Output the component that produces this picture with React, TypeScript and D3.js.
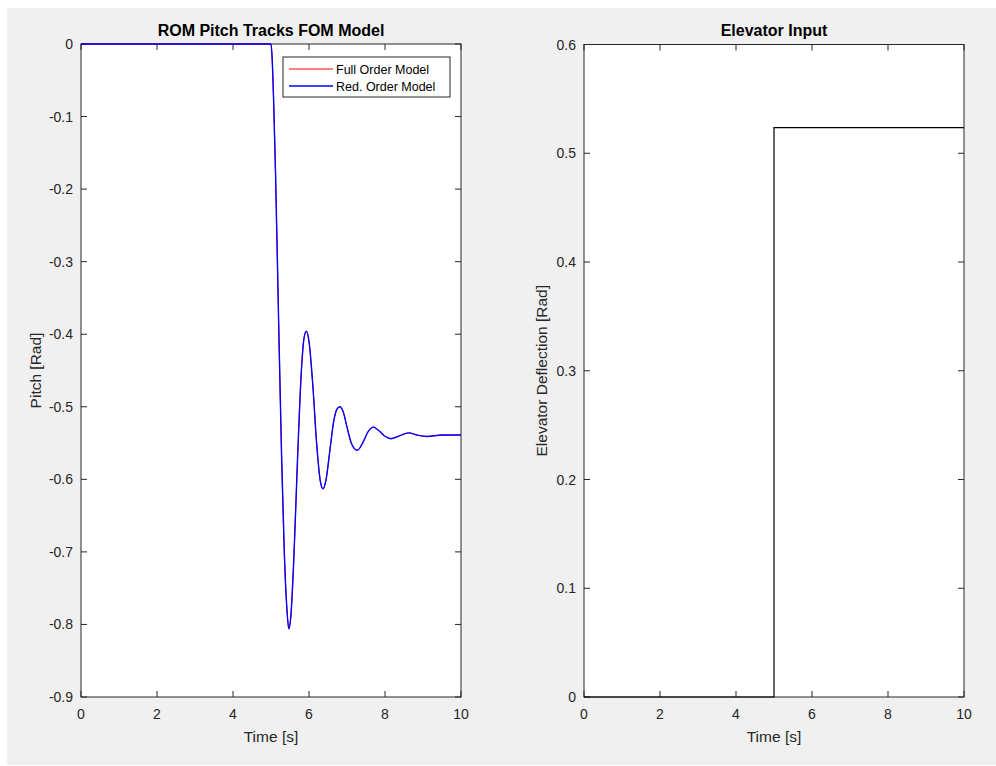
import React, { useEffect, useRef } from 'react';
import * as d3 from 'd3';

// values (time in s, pitch in rad)
const pitchTime = [0, 4.98, 5.0, 5.03, 5.07, 5.12, 5.2, 5.28, 5.35, 5.42, 5.47, 5.52, 5.6, 5.7, 5.8, 5.87, 5.93, 6.0, 6.1, 6.2, 6.3, 6.37, 6.45, 6.55, 6.65, 6.74, 6.81, 6.9, 7.0, 7.12, 7.27, 7.42, 7.56, 7.69, 7.82, 7.98, 8.15, 8.38, 8.62, 8.85, 9.1, 9.5, 10];
const romPitch = [0, 0, 0, -0.02, -0.08, -0.18, -0.38, -0.57, -0.7, -0.78, -0.806, -0.79, -0.71, -0.57, -0.45, -0.405, -0.396, -0.41, -0.47, -0.55, -0.603, -0.613, -0.6, -0.56, -0.52, -0.503, -0.5, -0.507, -0.528, -0.551, -0.56, -0.549, -0.534, -0.528, -0.532, -0.54, -0.544, -0.54, -0.536, -0.539, -0.541, -0.539, -0.539];
// the full order model lies under the reduced one
const fomPitch = romPitch;

const elevTime = [0, 5, 10];
const elevDeflection = [0, 0.5236, 0.5236];

const xTicks = [0, 2, 4, 6, 8, 10];
const pitchTicks = [0, -0.1, -0.2, -0.3, -0.4, -0.5, -0.6, -0.7, -0.8, -0.9];
const elevTicks = [0, 0.1, 0.2, 0.3, 0.4, 0.5, 0.6];

const legendNames = ['Full Order Model', 'Red. Order Model'];
const legendColors = ['#ff0000', '#0000ff'];

const W = 996;
const H = 766;
const FONT = '"Liberation Sans", Arial, Helvetica, sans-serif';
const AXIS = '#262626';

// matlab style labels: plain hyphen, no trailing zeros
const fmt = (v) => (v === 0 ? '0' : v.toFixed(1));

const App = () => {
    const ref = useRef(null);

    useEffect(() => {
        d3.select(ref.current).selectAll('*').remove();

        const svg = d3.select(ref.current)
            .append('svg')
            .attr('width', W)
            .attr('height', H)
            .style('display', 'block')
            .style('font-family', FONT);

        svg.append('rect').attr('width', W).attr('height', H).attr('fill', '#ffffff');
        svg.append('rect').attr('x', 7).attr('y', 8).attr('width', W - 7).attr('height', H - 9).attr('fill', '#f0f0f0');

        const drawPanel = (box, domainY, yTicks, title, yLabel, yLabelX) => {
            const x = d3.scaleLinear().domain([0, 10]).range([box.left, box.right]);
            const y = d3.scaleLinear().domain(domainY).range([box.bottom, box.top]);
            const g = svg.append('g');

            g.append('rect')
                .attr('x', box.left).attr('y', box.top)
                .attr('width', box.right - box.left).attr('height', box.bottom - box.top)
                .attr('fill', '#ffffff');

            const tl = 6;
            // ticks on all four sides, pointing in
            xTicks.forEach((t) => {
                g.append('line').attr('x1', x(t)).attr('x2', x(t)).attr('y1', box.bottom).attr('y2', box.bottom - tl).attr('stroke', AXIS);
                g.append('line').attr('x1', x(t)).attr('x2', x(t)).attr('y1', box.top).attr('y2', box.top + tl).attr('stroke', AXIS);
                g.append('text').attr('x', x(t)).attr('y', box.bottom + 22)
                    .attr('text-anchor', 'middle').attr('font-size', 14).attr('fill', AXIS).text(t);
            });
            yTicks.forEach((v) => {
                g.append('line').attr('x1', box.left).attr('x2', box.left + tl).attr('y1', y(v)).attr('y2', y(v)).attr('stroke', AXIS);
                g.append('line').attr('x1', box.right).attr('x2', box.right - tl).attr('y1', y(v)).attr('y2', y(v)).attr('stroke', AXIS);
                g.append('text').attr('x', box.left - 8).attr('y', y(v) + 5)
                    .attr('text-anchor', 'end').attr('font-size', 14).attr('fill', AXIS)
                    .text(fmt(v));
            });

            g.append('rect')
                .attr('x', box.left).attr('y', box.top)
                .attr('width', box.right - box.left).attr('height', box.bottom - box.top)
                .attr('fill', 'none').attr('stroke', AXIS).attr('stroke-width', 1);

            g.append('text').attr('x', (box.left + box.right) / 2).attr('y', 36)
                .attr('text-anchor', 'middle').attr('font-size', 16).attr('font-weight', 'bold')
                .attr('fill', '#000000').text(title);
            g.append('text').attr('x', (box.left + box.right) / 2).attr('y', 742)
                .attr('text-anchor', 'middle').attr('font-size', 15.5).attr('fill', AXIS).text('Time [s]');
            g.append('text')
                .attr('transform', `translate(${yLabelX},${(box.top + box.bottom) / 2}) rotate(-90)`)
                .attr('text-anchor', 'middle').attr('font-size', 15.5).attr('fill', AXIS).text(yLabel);

            return { x, y, g };
        };

        // left panel: pitch
        const left = drawPanel({ left: 81, right: 461, top: 44, bottom: 697 }, [-0.9, 0], pitchTicks,
            'ROM Pitch Tracks FOM Model', 'Pitch [Rad]', 40.5);

        const pitchLine = d3.line()
            .x((d, i) => left.x(pitchTime[i]))
            .y((d) => left.y(d))
            .curve(d3.curveMonotoneX);

        left.g.append('path').datum(fomPitch)
            .attr('fill', 'none').attr('stroke', legendColors[0]).attr('stroke-width', 1)
            .attr('d', pitchLine);
        left.g.append('path').datum(romPitch)
            .attr('fill', 'none').attr('stroke', legendColors[1]).attr('stroke-width', 1.4)
            .attr('d', pitchLine);

        // legend
        const lg = left.g.append('g');
        lg.append('rect').attr('x', 283).attr('y', 57).attr('width', 167).attr('height', 40)
            .attr('fill', '#ffffff').attr('stroke', AXIS).attr('stroke-width', 1);
        legendNames.forEach((name, i) => {
            const yy = 69 + i * 17;
            lg.append('line').attr('x1', 289).attr('x2', 333).attr('y1', yy).attr('y2', yy)
                .attr('stroke', legendColors[i]).attr('stroke-width', i === 1 ? 1.6 : 1.2);
            lg.append('text').attr('x', 336).attr('y', yy + 5)
                .attr('font-size', 12.5).attr('fill', '#000000').text(name);
        });

        // right panel: elevator
        const right = drawPanel({ left: 584, right: 964, top: 44.5, bottom: 697 }, [0, 0.6], elevTicks,
            'Elevator Input', 'Elevator Deflection [Rad]', 547);

        const elevLine = d3.line()
            .x((d, i) => right.x(elevTime[i]))
            .y((d) => right.y(d))
            .curve(d3.curveStepAfter);

        right.g.append('path').datum(elevDeflection)
            .attr('fill', 'none').attr('stroke', '#000000').attr('stroke-width', 1.2)
            .attr('d', elevLine);
    }, []);

    return <div ref={ref} style={{ position: 'absolute', left: 0, top: 0 }}></div>;
};

export default App;
